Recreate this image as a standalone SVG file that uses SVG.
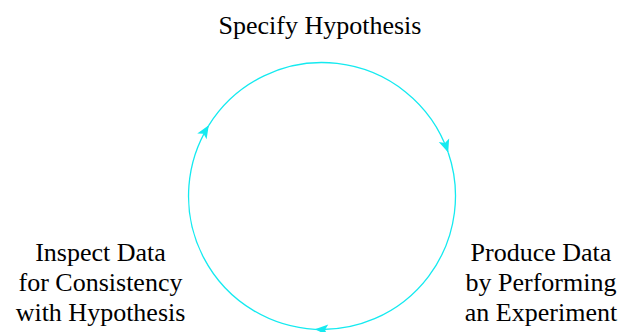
<svg xmlns="http://www.w3.org/2000/svg" width="627" height="332" viewBox="0 0 627 332">
  <style>
    .label { font-family: "Liberation Serif", "Times New Roman", serif; font-size: 26px; fill: #000; text-anchor: middle; }
    .edge { fill: none; stroke: #14eaf0; stroke-width: 1.3; }
  </style>
  <defs>
    <marker id="arrow" markerUnits="userSpaceOnUse" markerWidth="16" markerHeight="14" viewBox="-15 -7 16 14" refX="0" refY="0" orient="auto">
      <path d="M0,0 L-13,-5.5 L-10,0 L-13,5.5 Z" fill="#14eaf0"/>
    </marker>
  </defs>
  <rect width="627" height="332" fill="#fff"/>

  <!-- cycle of three arcs on a circle centred at (322,196), r = 133.5 -->
  <g id="connectors">
    <path class="edge" marker-end="url(#arrow)" d="M448.2,152.5 A133.5,133.5 0 0 1 315.0,329.3"/>
    <path class="edge" marker-end="url(#arrow)" d="M315.0,329.3 A133.5,133.5 0 0 1 208.8,125.3"/>
    <path class="edge" marker-end="url(#arrow)" d="M208.8,125.3 A133.5,133.5 0 0 1 448.2,152.5"/>
  </g>

  <g id="specify">
    <text class="label" x="320" y="34">Specify Hypothesis</text>
  </g>
  <g id="produce">
    <text class="label" x="541" y="261">Produce Data</text>
    <text class="label" x="541" y="291">by Performing</text>
    <text class="label" x="541" y="321">an Experiment</text>
  </g>
  <g id="inspect">
    <text class="label" x="100.5" y="261">Inspect Data</text>
    <text class="label" x="100.5" y="291">for Consistency</text>
    <text class="label" x="100.5" y="321">with Hypothesis</text>
  </g>
</svg>
